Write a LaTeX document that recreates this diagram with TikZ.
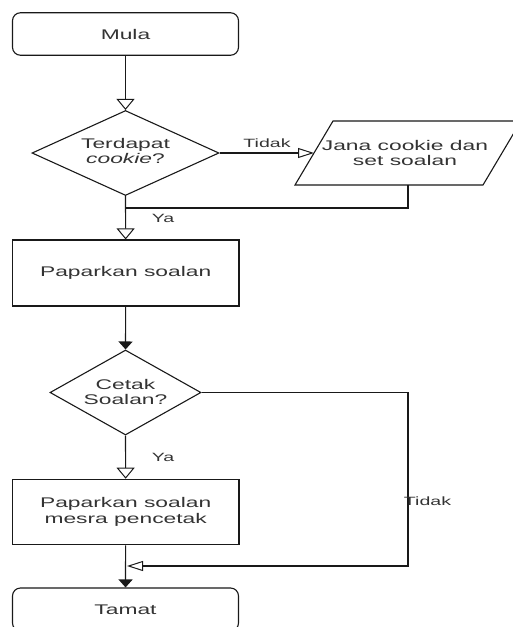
\documentclass[tikz,border=0pt]{standalone}
\usepackage{fontspec}
\setmainfont{Liberation Sans}[FakeStretch=1.63]
\usetikzlibrary{arrows.meta,shapes.geometric,calc}
\tikzset{
  txt/.style={text=black!80, font=\fontsize{14}{15.5}\selectfont, align=center, inner sep=0},
  lbl/.style={text=black!80, font=\fontsize{12}{14}\selectfont, inner sep=0},
  shapeline/.style={draw=black!90, line width=1.1pt},
  term/.style={shapeline, rounded corners=8pt, minimum width=226pt, minimum height=42.5pt, inner sep=0},
  proc/.style={shapeline, minimum width=226.5pt, minimum height=66pt, inner sep=0},
  dec/.style={shapeline, diamond, inner sep=0},
  conn/.style={line width=1.2pt, draw=black!90},
  openv/.style={-{Triangle[open,length=11pt,width=18pt,line width=1pt]}},
  openh/.style={-{Triangle[open,length=16pt,width=10pt,line width=1pt]}},
  fillv/.style={-{Triangle[length=8pt,width=14pt]}}
}
\begin{document}
\begin{tikzpicture}[x=1pt,y=-1pt]
\useasboundingbox (0,0) rectangle (513,627);
% nodes
\node[term] (m) at (125.5,34) {};
\node[txt] (mt) at (125.5,34) {Mula};
\node[dec, minimum width=187pt, minimum height=85pt] (d1) at (125.5,153) {};
\node[txt] (d1t) at (125.5,151) {Terdapat\\\textit{cookie}?};
% parallelogram (input/output)
\coordinate (pbl) at (295,185);
\coordinate (ptl) at (333,121);
\coordinate (ptr) at (521,121);
\coordinate (pbr) at (483,185);
\draw[shapeline] (pbl) -- (ptl) -- (ptr) -- (pbr) -- cycle;
\coordinate (pw) at ($(pbl)!0.5!(ptl)$);
\node[txt] (p) at (405,153) {Jana cookie dan\\set soalan};
\node[proc] (b1) at (125.7,273) {};
\node[txt] (b1t) at (125.7,273) {Paparkan soalan};
\node[dec, minimum width=151pt, minimum height=85pt] (d2) at (125.5,392.5) {};
\node[txt] (d2t) at (125.5,392) {Cetak\\Soalan?};
\node[proc, minimum height=65.5pt] (b2) at (125.7,512) {};
\node[txt] (b2t) at (125.7,512) {Paparkan soalan\\mesra pencetak};
\node[term, minimum height=43pt] (t) at (125.5,609.5) {};
\node[txt] (tt) at (125.5,609.5) {Tamat};
% coordinates
\coordinate (pb) at (408,185);
\coordinate (j1) at (125.5,208);
\coordinate (c2) at (408,566);
\coordinate (j2) at (127,566);
% connectors
\draw[conn,openv] (m) -- (d1);
\draw[conn,openh] (d1.east) -- (pw);
\node[lbl] (l1) at (267,143) {Tidak};
\draw[conn] (pb) |- (j1);
\draw[conn,openv] (d1) -- (b1);
\node[lbl] (l2) at (163,218) {Ya};
\draw[conn,fillv] (b1) -- (d2);
\draw[conn,openv] (d2) -- (b2);
\node[lbl] (l3) at (163,457) {Ya};
\draw[conn,fillv] (b2) -- (t);
\draw[conn,openh] (d2.east) -| (c2) -- (j2);
\node[lbl] (l4) at (427.5,501) {Tidak};
\end{tikzpicture}
\end{document}
